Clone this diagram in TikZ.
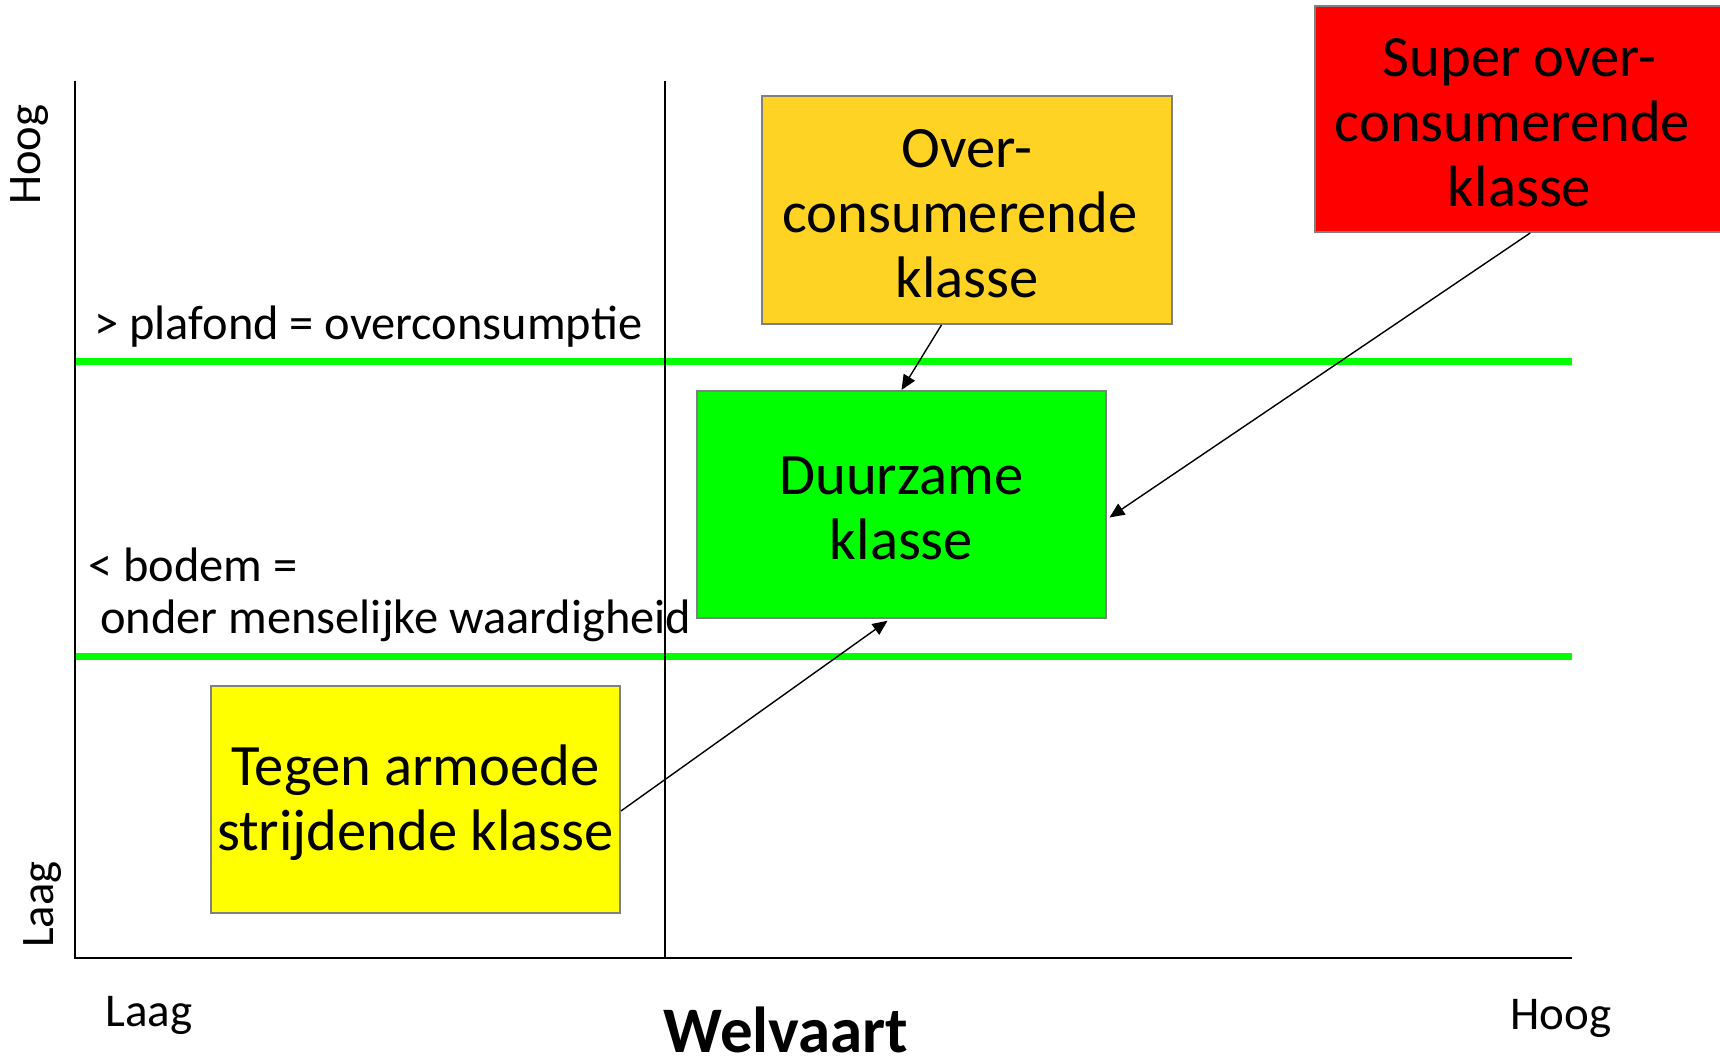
\documentclass[tikz,border=0pt]{standalone}
\usepackage{fontspec}
\setmainfont{Carlito}
\usetikzlibrary{arrows.meta,calc}
\definecolor{boxgray}{RGB}{128,128,128}
\definecolor{orangebox}{RGB}{255,211,35}
\definecolor{greenbox}{RGB}{0,255,0}
\definecolor{redbox}{RGB}{255,0,0}
\definecolor{yellowbox}{RGB}{255,255,0}
\definecolor{limeline}{RGB}{0,255,0}
\tikzset{
  clsbox/.style={draw=boxgray, line width=1pt, inner sep=0pt,
    minimum width=204.5pt, minimum height=113.5pt},
  clstext/.style={inner sep=0pt, align=center, font=\fontsize{29.3}{32.5}\selectfont},
  lbl/.style={inner sep=0pt, anchor=base west, font=\fontsize{24.2}{26}\selectfont},
  axlbl/.style={inner sep=0pt, anchor=base west, font=\fontsize{23.5}{26}\selectfont},
  rotlbl/.style={inner sep=0pt, anchor=base west, rotate=90, font=\fontsize{23.3}{26}\selectfont},
  axis/.style={line width=1pt, black},
  divider/.style={line width=0.75pt, black},
  limit/.style={line width=3.5pt, limeline},
  arr/.style={line width=0.7pt, black, -{Triangle[length=7.5pt, width=6.5pt]}}
}
\begin{document}
\begin{tikzpicture}[x=0.5pt, y=-0.5pt]
\useasboundingbox (0,0) rectangle (1720,1061);
% axes
\coordinate (ytop) at (75,81);
\coordinate (orig) at (75,958);
\coordinate (xend) at (1572,958);
\coordinate (dtop) at (665,81);
\coordinate (dbot) at (665,958);
\coordinate (ceilL) at (75,361);
\coordinate (ceilR) at (1572,361);
\coordinate (floorL) at (75,656);
\coordinate (floorR) at (1572,656);
\draw[limit] (ceilL) -- (ceilR);
\draw[limit] (floorL) -- (floorR);
\draw[divider] (dtop) -- (dbot);
\draw[axis] (ytop) -- (orig) -- (xend);
% boxes
\node[clsbox, fill=orangebox, minimum width=205pt, minimum height=114pt] (over) at (967,210) {};
\node[clsbox, fill=redbox, minimum height=113pt] (super) at (1519.5,119) {};
\node[clsbox, fill=greenbox] (duur) at (901.5,504.5) {};
\node[clsbox, fill=yellowbox] (tegen) at (415.5,799.5) {};
\node[clstext] (overtxt) at (967,213.5) {Over-\\consumerende\rule{7pt}{0pt}\\klasse};
\node[clstext] (supertxt) at (1519.5,122.5) {Super over-\\consumerende\rule{7pt}{0pt}\\klasse};
\node[clstext] (duurtxt) at (901.5,508) {Duurzame\\klasse};
\node[clstext] (tegentxt) at (415.5,803) {Tegen armoede\\strijdende klasse};
% arrows
\draw[arr] ($(over.south west)!0.438!(over.south east)$) -- (duur.north);
\draw[arr, shorten >=1.5pt] ($(super.south west)!0.526!(super.south east)$) -- ($(duur.north east)!0.564!(duur.south east)$);
\draw[arr, shorten >=1.5pt] ($(tegen.north east)!0.55!(tegen.south east)$) -- ($(duur.south west)!0.472!(duur.south east)$);
% labels
\node[lbl] (plafond) at (94,339) {> plafond = overconsumptie};
\node[lbl] (bodem) at (88,581) {< bodem =};
\node[lbl] (onder) at (100,633) {onder menselijke waardigheid};
\node[axlbl] (xlaag) at (105,1026) {Laag};
\node[axlbl] (xhoog) at (1510,1029.5) {Hoog};
\node[inner sep=0pt, anchor=base west, text depth=0pt, font=\bfseries\fontsize{32.5}{34}\selectfont] (welvaart) at (663,1052) {Welvaart};
\node[rotlbl] (yhoog) at (40,205) {Hoog};
\node[rotlbl] (ylaag) at (54,948) {Laag};
\end{tikzpicture}
\end{document}
